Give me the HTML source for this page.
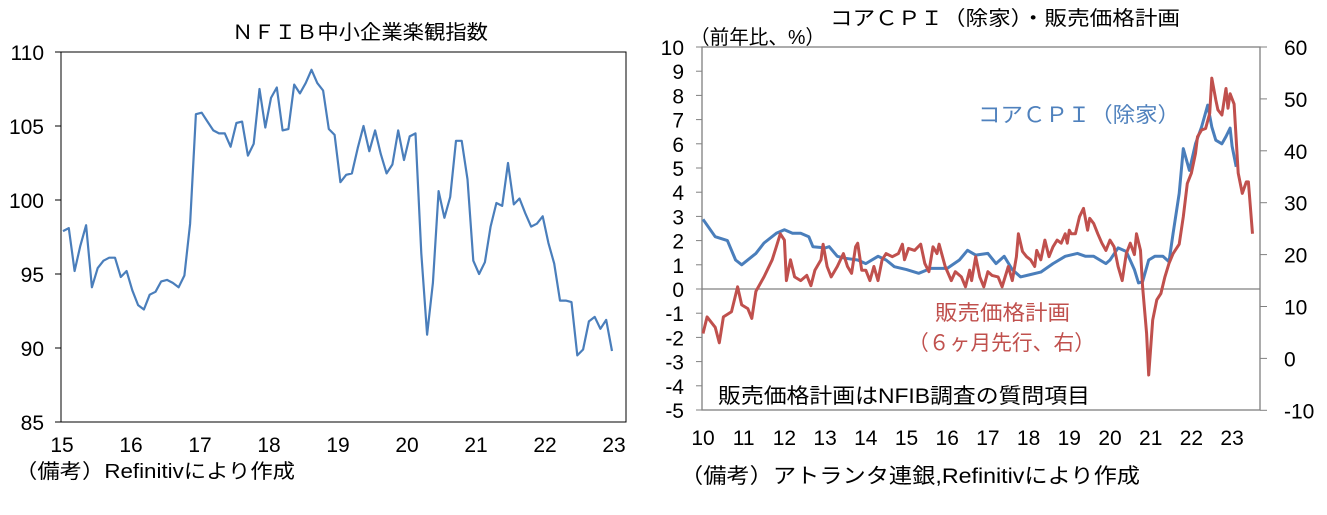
<!DOCTYPE html>
<html><head><meta charset="utf-8"><style>
body{margin:0;background:#fff;width:1327px;height:510px;overflow:hidden}
svg text{font-family:"Liberation Sans Narrow","Liberation Sans","Noto Sans CJK JP",sans-serif;fill:#000}
.j{font-family:"Liberation Sans","Noto Sans CJK JP",sans-serif}
</style></head><body>
<svg id="s" width="1327" height="510" xmlns="http://www.w3.org/2000/svg">
<rect width="1327" height="510" fill="#fff"/>
<text class="j" x="232" y="39" font-size="20" textLength="256" lengthAdjust="spacingAndGlyphs">ＮＦＩＢ中小企業楽観指数</text>
<rect x="61" y="52" width="565" height="370" fill="none" stroke="#000" stroke-width="1"/>
<g id="L"></g>
<text class="j" x="15" y="478" font-size="20" textLength="280" lengthAdjust="spacingAndGlyphs">（備考）Refinitivにより作成</text>
<text class="j" x="830" y="25" font-size="20" textLength="350" lengthAdjust="spacingAndGlyphs">コアＣＰＩ（除家）・販売価格計画</text>
<text class="j" x="690" y="44" font-size="20" textLength="135" lengthAdjust="spacingAndGlyphs">（前年比、%）</text>
<rect x="702" y="47" width="558" height="363" fill="none" stroke="#808080" stroke-width="1.3"/>
<line x1="702" y1="289" x2="1260" y2="289" stroke="#808080" stroke-width="1.3"/>
<g id="R"></g>
<text class="j" x="978" y="122" font-size="21" textLength="202" lengthAdjust="spacingAndGlyphs" style="fill:#4f81bd">コアＣＰＩ（除家）</text>
<text class="j" x="935" y="320" font-size="21" textLength="135" lengthAdjust="spacingAndGlyphs" style="fill:#c0504d">販売価格計画</text>
<text class="j" x="908" y="350" font-size="21" textLength="187" lengthAdjust="spacingAndGlyphs" style="fill:#c0504d">（６ヶ月先行、右）</text>
<text class="j" x="718" y="403" font-size="21" textLength="372" lengthAdjust="spacingAndGlyphs">販売価格計画はNFIB調査の質問項目</text>
<text class="j" x="680" y="483" font-size="21" textLength="460" lengthAdjust="spacingAndGlyphs">（備考）アトランタ連銀,Refinitivにより作成</text>
</svg>
<script>
var NS="http://www.w3.org/2000/svg";
function el(p,t,a,txt){var e=document.createElementNS(NS,t);for(var k in a)e.setAttribute(k,a[k]);if(txt!==undefined)e.textContent=txt;document.getElementById(p).appendChild(e);return e;}
var nf=[97.9,98.1,95.2,96.9,98.3,94.1,95.4,95.9,96.1,96.1,94.8,95.2,93.9,92.9,92.6,93.6,93.8,94.5,94.6,94.4,94.1,94.9,98.4,105.8,105.9,105.3,104.7,104.5,104.5,103.6,105.2,105.3,103.0,103.8,107.5,104.9,106.9,107.6,104.7,104.8,107.8,107.2,107.9,108.8,107.9,107.4,104.8,104.4,101.2,101.7,101.8,103.5,105.0,103.3,104.7,103.1,101.8,102.4,104.7,102.7,104.3,104.5,96.4,90.9,94.4,100.6,98.8,100.2,104.0,104.0,101.4,95.9,95.0,95.8,98.2,99.8,99.6,102.5,99.7,100.1,99.1,98.2,98.4,98.9,97.1,95.7,93.2,93.2,93.1,89.5,89.9,91.8,92.1,91.3,91.9,89.8];
var pts=nf.map(function(v,i){return (63+i*549/95).toFixed(1)+","+(52+(110-v)*14.8).toFixed(1)}).join(" ");
el("L","polyline",{points:pts,fill:"none",stroke:"#4a7ebb","stroke-width":2.2,"stroke-linejoin":"round"});
for(var k=0;k<=5;k++){var y=52+k*74;el("L","line",{x1:55,y1:y,x2:61,y2:y,stroke:"#000"});el("L","text",{x:44,y:y+8,"font-size":21,"text-anchor":"end"},String(110-5*k));}
for(var k=0;k<=8;k++){el("L","text",{x:62+k*69,y:452,"font-size":21,"text-anchor":"middle"},String(15+k));}
function X(t){return 703+(t-2010)*40.7}
function YL(v){return 289-24.2*v}
function YR(r){return 47+(60-r)*5.19}
for(var k=0;k<=15;k++){var y=47+k*24.2;el("R","line",{x1:696,y1:y,x2:702,y2:y,stroke:"#808080"});el("R","text",{x:684,y:y+8,"font-size":21,"text-anchor":"end"},String(10-k));}
for(var k=0;k<=7;k++){var y=47+k*51.9;el("R","line",{x1:1260,y1:y,x2:1267,y2:y,stroke:"#808080"});el("R","text",{x:1284,y:y+8,"font-size":21},String(60-10*k));}
for(var k=0;k<=13;k++){el("R","text",{x:703+k*40.7,y:445,"font-size":21,"text-anchor":"middle"},String(10+k));}
var cpi=[[2010,2.88],[2010.3,2.16],[2010.6,2.0],[2010.8,1.2],[2010.95,1.0],[2011.3,1.47],[2011.5,1.9],[2011.8,2.3],[2012,2.45],[2012.2,2.3],[2012.4,2.3],[2012.6,2.16],[2012.7,1.75],[2013,1.7],[2013.1,1.75],[2013.3,1.35],[2013.5,1.27],[2013.8,1.2],[2014,1.05],[2014.3,1.35],[2014.5,1.2],[2014.7,0.92],[2015,0.8],[2015.3,0.65],[2015.6,0.85],[2016,0.85],[2016.3,1.2],[2016.5,1.6],[2016.7,1.4],[2017,1.47],[2017.2,1.05],[2017.4,1.35],[2017.6,0.8],[2017.8,0.5],[2018,0.58],[2018.3,0.7],[2018.6,1.05],[2018.9,1.35],[2019.2,1.47],[2019.4,1.35],[2019.6,1.35],[2019.9,1.05],[2020,1.2],[2020.2,1.7],[2020.4,1.55],[2020.6,0.8],[2020.7,0.25],[2020.8,0.3],[2020.95,1.2],[2021.1,1.35],[2021.3,1.35],[2021.45,1.13],[2021.55,2.3],[2021.7,3.95],[2021.8,5.8],[2021.95,4.9],[2022.1,6.0],[2022.25,6.7],[2022.4,7.6],[2022.5,6.7],[2022.6,6.15],[2022.75,6.0],[2022.85,6.3],[2022.95,6.65],[2023.0,5.9],[2023.1,5.05]];
el("R","polyline",{points:cpi.map(function(p){return X(p[0]).toFixed(1)+","+YL(p[1]).toFixed(1)}).join(" "),fill:"none",stroke:"#4a7ebb","stroke-width":3,"stroke-linejoin":"round"});
var red=[[2010,4.8],[2010.1,8],[2010.3,6],[2010.4,3],[2010.5,8],[2010.7,9],[2010.85,13.8],[2010.95,10.3],[2011.1,9.6],[2011.2,7.7],[2011.3,12.9],[2011.5,15.7],[2011.7,19],[2011.8,21.5],[2011.9,24],[2012,22.8],[2012.05,15],[2012.15,19],[2012.25,15.7],[2012.4,15],[2012.55,16],[2012.65,14],[2012.75,17],[2012.9,19],[2012.95,22],[2013.05,17.7],[2013.15,15.7],[2013.3,17.7],[2013.45,20.2],[2013.55,17.7],[2013.65,16.4],[2013.75,21.5],[2013.8,22.2],[2013.9,17],[2014,17],[2014.1,15],[2014.2,17.7],[2014.3,15],[2014.4,19],[2014.5,20.2],[2014.65,19.6],[2014.8,20.2],[2014.9,22],[2014.95,19],[2015.05,21.2],[2015.2,20.8],[2015.35,22],[2015.45,18.3],[2015.55,16.7],[2015.65,21.5],[2015.75,20.2],[2015.8,22],[2015.95,17.7],[2016.1,15],[2016.2,16.7],[2016.35,15.7],[2016.45,13.8],[2016.55,17],[2016.6,15],[2016.7,19.6],[2016.8,15.7],[2016.9,13.8],[2017,16.7],[2017.1,16],[2017.25,15.7],[2017.35,13.8],[2017.5,17.7],[2017.6,15],[2017.7,19.6],[2017.75,24],[2017.85,20.6],[2017.95,19.6],[2018.05,19],[2018.15,17.7],[2018.2,20.8],[2018.3,19],[2018.4,22.8],[2018.5,19.6],[2018.6,21.5],[2018.7,22.8],[2018.8,22.2],[2018.9,24],[2018.95,22.2],[2019,24.7],[2019.05,24],[2019.15,24],[2019.25,27.3],[2019.35,28.9],[2019.45,24.7],[2019.5,27],[2019.6,26],[2019.7,24],[2019.8,22.2],[2019.9,20.8],[2020,22.8],[2020.1,21.5],[2020.2,17.7],[2020.3,15],[2020.4,20.2],[2020.5,22.2],[2020.6,20],[2020.65,24],[2020.75,20.8],[2020.8,13.8],[2020.9,4.8],[2020.95,-3.2],[2021.05,7.4],[2021.15,11.3],[2021.25,12.5],[2021.35,15.7],[2021.45,18.3],[2021.55,20.2],[2021.7,22],[2021.8,27.3],[2021.9,33.7],[2022,35.7],[2022.1,39.5],[2022.15,42.7],[2022.25,44],[2022.35,44.3],[2022.45,47.2],[2022.5,54],[2022.6,49.8],[2022.65,47.9],[2022.75,46.9],[2022.85,52],[2022.9,48.2],[2022.95,51],[2023.05,49],[2023.15,35.7],[2023.25,31.8],[2023.35,34],[2023.4,34],[2023.5,24]];
el("R","polyline",{points:red.map(function(p){return X(p[0]).toFixed(1)+","+YR(p[1]).toFixed(1)}).join(" "),fill:"none",stroke:"#c0504d","stroke-width":3,"stroke-linejoin":"round"});
</script>
</body></html>
